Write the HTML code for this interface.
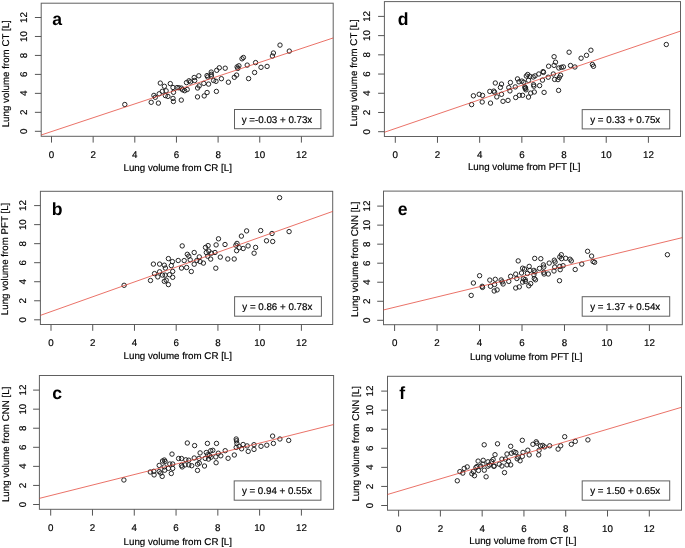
<!DOCTYPE html>
<html><head><meta charset="utf-8"><style>
html,body{margin:0;padding:0;background:#fff;}
svg{display:block;will-change:transform;}
text{text-rendering:geometricPrecision;font-family:"Liberation Sans",sans-serif;font-size:9.75px;fill:#000;stroke:#000;stroke-width:0.18;}
.m{text-anchor:middle;}
.lt{font-weight:bold;font-size:17.6px;fill:#000;stroke:none;}
.fr{fill:none;stroke:#606060;stroke-width:1;}
.tk{fill:none;stroke:#555;stroke-width:1;}
.lg{fill:#fff;stroke:#606060;stroke-width:1;}
.rl{stroke:#e23a2c;stroke-opacity:0.9;stroke-width:0.8;}
.pt circle{fill:none;stroke:#1a1a1a;stroke-width:0.95;}
</style></head><body>
<svg width="685" height="548" viewBox="0 0 685 548">
<g><rect x="41.20" y="3.20" width="292.00" height="133.10" class="fr"/><path d="M51.50 136.30V142.60M41.20 131.30H34.90M93.15 136.30V142.60M41.20 112.33H34.90M134.80 136.30V142.60M41.20 93.37H34.90M176.45 136.30V142.60M41.20 74.40H34.90M218.10 136.30V142.60M41.20 55.43H34.90M259.75 136.30V142.60M41.20 36.47H34.90M301.40 136.30V142.60M41.20 17.50H34.90" class="tk"/><text x="51.50" y="157.60" class="m">0</text><text transform="translate(27.00,131.30) rotate(-90)" class="m">0</text><text x="93.15" y="157.60" class="m">2</text><text transform="translate(27.00,112.33) rotate(-90)" class="m">2</text><text x="134.80" y="157.60" class="m">4</text><text transform="translate(27.00,93.37) rotate(-90)" class="m">4</text><text x="176.45" y="157.60" class="m">6</text><text transform="translate(27.00,74.40) rotate(-90)" class="m">6</text><text x="218.10" y="157.60" class="m">8</text><text transform="translate(27.00,55.43) rotate(-90)" class="m">8</text><text x="259.75" y="157.60" class="m">10</text><text transform="translate(27.00,36.47) rotate(-90)" class="m">10</text><text x="301.40" y="157.60" class="m">12</text><text transform="translate(27.00,17.50) rotate(-90)" class="m">12</text><text x="123.50" y="170.90">Lung volume from CR [L]</text><text transform="translate(9.40,73.75) rotate(-90)" class="m">Lung volume from CT [L]</text><text x="52.30" y="24.50" class="lt">a</text><g class="pt"><circle cx="124.8" cy="104.5" r="2.2"/><circle cx="151.2" cy="102.3" r="2.2"/><circle cx="153.9" cy="95.4" r="2.2"/><circle cx="155.3" cy="97.3" r="2.2"/><circle cx="158.4" cy="103.1" r="2.2"/><circle cx="160.3" cy="83.1" r="2.2"/><circle cx="164.4" cy="86.3" r="2.2"/><circle cx="170.3" cy="83.6" r="2.2"/><circle cx="173.0" cy="87.5" r="2.2"/><circle cx="177.0" cy="87.6" r="2.2"/><circle cx="162.3" cy="91.3" r="2.2"/><circle cx="166.1" cy="90.8" r="2.2"/><circle cx="165.4" cy="95.6" r="2.2"/><circle cx="167.9" cy="96.4" r="2.2"/><circle cx="173.0" cy="98.4" r="2.2"/><circle cx="173.4" cy="101.5" r="2.2"/><circle cx="159.2" cy="93.8" r="2.2"/><circle cx="173.5" cy="92.3" r="2.2"/><circle cx="179.0" cy="87.8" r="2.2"/><circle cx="181.4" cy="88.1" r="2.2"/><circle cx="182.5" cy="89.8" r="2.2"/><circle cx="184.7" cy="90.7" r="2.2"/><circle cx="187.2" cy="89.5" r="2.2"/><circle cx="186.5" cy="82.6" r="2.2"/><circle cx="189.0" cy="80.8" r="2.2"/><circle cx="190.5" cy="81.9" r="2.2"/><circle cx="194.2" cy="77.5" r="2.2"/><circle cx="194.7" cy="80.5" r="2.2"/><circle cx="198.8" cy="75.8" r="2.2"/><circle cx="197.6" cy="88.0" r="2.2"/><circle cx="199.2" cy="85.9" r="2.2"/><circle cx="203.8" cy="83.4" r="2.2"/><circle cx="208.6" cy="84.1" r="2.2"/><circle cx="207.0" cy="75.6" r="2.2"/><circle cx="207.7" cy="77.0" r="2.2"/><circle cx="211.2" cy="72.1" r="2.2"/><circle cx="211.3" cy="74.3" r="2.2"/><circle cx="211.4" cy="76.1" r="2.2"/><circle cx="213.6" cy="80.5" r="2.2"/><circle cx="197.5" cy="96.9" r="2.2"/><circle cx="204.2" cy="95.9" r="2.2"/><circle cx="207.1" cy="92.5" r="2.2"/><circle cx="181.3" cy="100.1" r="2.2"/><circle cx="216.4" cy="91.4" r="2.2"/><circle cx="216.7" cy="70.3" r="2.2"/><circle cx="219.3" cy="67.8" r="2.2"/><circle cx="225.2" cy="68.2" r="2.2"/><circle cx="216.0" cy="81.3" r="2.2"/><circle cx="221.4" cy="78.7" r="2.2"/><circle cx="228.4" cy="82.2" r="2.2"/><circle cx="234.3" cy="77.3" r="2.2"/><circle cx="236.6" cy="75.1" r="2.2"/><circle cx="237.1" cy="66.9" r="2.2"/><circle cx="238.9" cy="65.8" r="2.2"/><circle cx="237.8" cy="68.4" r="2.2"/><circle cx="242.0" cy="58.8" r="2.2"/><circle cx="243.4" cy="57.5" r="2.2"/><circle cx="247.2" cy="65.1" r="2.2"/><circle cx="255.6" cy="62.6" r="2.2"/><circle cx="261.0" cy="67.3" r="2.2"/><circle cx="267.1" cy="66.4" r="2.2"/><circle cx="272.4" cy="56.0" r="2.2"/><circle cx="273.4" cy="53.0" r="2.2"/><circle cx="280.0" cy="45.1" r="2.2"/><circle cx="289.3" cy="51.1" r="2.2"/><circle cx="254.6" cy="72.5" r="2.2"/><circle cx="248.6" cy="78.6" r="2.2"/></g><line x1="41.20" y1="135.01" x2="333.20" y2="37.94" class="rl"/><rect x="234.50" y="109.50" width="86.40" height="19.20" class="lg"/><text x="277.00" y="122.60" class="m">y =-0.03 + 0.73x</text></g><g><rect x="40.40" y="191.30" width="292.30" height="133.20" class="fr"/><path d="M51.00 324.50V330.80M40.40 319.80H34.10M92.73 324.50V330.80M40.40 300.77H34.10M134.47 324.50V330.80M40.40 281.73H34.10M176.20 324.50V330.80M40.40 262.70H34.10M217.93 324.50V330.80M40.40 243.67H34.10M259.67 324.50V330.80M40.40 224.63H34.10M301.40 324.50V330.80M40.40 205.60H34.10" class="tk"/><text x="51.00" y="345.80" class="m">0</text><text transform="translate(25.50,319.80) rotate(-90)" class="m">0</text><text x="92.73" y="345.80" class="m">2</text><text transform="translate(25.50,300.77) rotate(-90)" class="m">2</text><text x="134.47" y="345.80" class="m">4</text><text transform="translate(25.50,281.73) rotate(-90)" class="m">4</text><text x="176.20" y="345.80" class="m">6</text><text transform="translate(25.50,262.70) rotate(-90)" class="m">6</text><text x="217.93" y="345.80" class="m">8</text><text transform="translate(25.50,243.67) rotate(-90)" class="m">8</text><text x="259.67" y="345.80" class="m">10</text><text transform="translate(25.50,224.63) rotate(-90)" class="m">10</text><text x="301.40" y="345.80" class="m">12</text><text transform="translate(25.50,205.60) rotate(-90)" class="m">12</text><text x="123.60" y="358.60">Lung volume from CR [L]</text><text transform="translate(8.00,258.95) rotate(-90)" class="m">Lung volume from PFT [L]</text><text x="51.70" y="214.70" class="lt">b</text><g class="pt"><circle cx="124.1" cy="285.3" r="2.2"/><circle cx="150.5" cy="280.5" r="2.2"/><circle cx="153.4" cy="264.1" r="2.2"/><circle cx="154.5" cy="273.6" r="2.2"/><circle cx="157.8" cy="276.9" r="2.2"/><circle cx="159.6" cy="264.1" r="2.2"/><circle cx="159.6" cy="271.8" r="2.2"/><circle cx="162.5" cy="275.1" r="2.2"/><circle cx="164.3" cy="265.2" r="2.2"/><circle cx="165.4" cy="268.1" r="2.2"/><circle cx="165.1" cy="275.1" r="2.2"/><circle cx="164.3" cy="281.3" r="2.2"/><circle cx="166.2" cy="280.2" r="2.2"/><circle cx="168.4" cy="284.6" r="2.2"/><circle cx="168.4" cy="258.6" r="2.2"/><circle cx="169.5" cy="274.7" r="2.2"/><circle cx="171.3" cy="265.6" r="2.2"/><circle cx="172.4" cy="261.6" r="2.2"/><circle cx="172.7" cy="271.4" r="2.2"/><circle cx="172.7" cy="277.3" r="2.2"/><circle cx="178.2" cy="260.5" r="2.2"/><circle cx="181.5" cy="268.1" r="2.2"/><circle cx="184.2" cy="260.6" r="2.2"/><circle cx="182.2" cy="245.9" r="2.2"/><circle cx="186.6" cy="267.5" r="2.2"/><circle cx="187.3" cy="254.3" r="2.2"/><circle cx="188.8" cy="256.2" r="2.2"/><circle cx="190.2" cy="259.8" r="2.2"/><circle cx="191.3" cy="271.5" r="2.2"/><circle cx="194.2" cy="252.5" r="2.2"/><circle cx="194.2" cy="264.2" r="2.2"/><circle cx="196.8" cy="260.5" r="2.2"/><circle cx="199.3" cy="256.9" r="2.2"/><circle cx="200.1" cy="261.6" r="2.2"/><circle cx="203.4" cy="263.1" r="2.2"/><circle cx="205.5" cy="247.4" r="2.2"/><circle cx="206.3" cy="252.5" r="2.2"/><circle cx="207.7" cy="256.2" r="2.2"/><circle cx="208.1" cy="245.6" r="2.2"/><circle cx="208.8" cy="251.1" r="2.2"/><circle cx="210.7" cy="259.1" r="2.2"/><circle cx="211.4" cy="253.2" r="2.2"/><circle cx="215.0" cy="252.5" r="2.2"/><circle cx="215.8" cy="268.2" r="2.2"/><circle cx="216.1" cy="244.9" r="2.2"/><circle cx="218.5" cy="238.8" r="2.2"/><circle cx="220.3" cy="257.1" r="2.2"/><circle cx="225.0" cy="244.5" r="2.2"/><circle cx="227.8" cy="259.0" r="2.2"/><circle cx="234.2" cy="259.0" r="2.2"/><circle cx="235.9" cy="245.2" r="2.2"/><circle cx="236.6" cy="250.7" r="2.2"/><circle cx="237.0" cy="243.4" r="2.2"/><circle cx="239.2" cy="247.7" r="2.2"/><circle cx="241.4" cy="236.1" r="2.2"/><circle cx="243.2" cy="248.5" r="2.2"/><circle cx="246.6" cy="230.9" r="2.2"/><circle cx="248.1" cy="245.9" r="2.2"/><circle cx="254.1" cy="253.2" r="2.2"/><circle cx="255.6" cy="247.4" r="2.2"/><circle cx="260.7" cy="230.6" r="2.2"/><circle cx="266.5" cy="240.8" r="2.2"/><circle cx="272.0" cy="233.5" r="2.2"/><circle cx="272.7" cy="241.5" r="2.2"/><circle cx="279.6" cy="197.7" r="2.2"/><circle cx="289.1" cy="231.6" r="2.2"/></g><line x1="40.40" y1="315.39" x2="332.70" y2="211.41" class="rl"/><rect x="234.60" y="296.70" width="86.80" height="19.50" class="lg"/><text x="277.30" y="309.80" class="m">y = 0.86 + 0.78x</text></g><g><rect x="39.40" y="375.50" width="294.20" height="133.80" class="fr"/><path d="M50.70 509.30V515.60M39.40 504.50H33.10M92.48 509.30V515.60M39.40 485.43H33.10M134.27 509.30V515.60M39.40 466.37H33.10M176.05 509.30V515.60M39.40 447.30H33.10M217.83 509.30V515.60M39.40 428.23H33.10M259.62 509.30V515.60M39.40 409.17H33.10M301.40 509.30V515.60M39.40 390.10H33.10" class="tk"/><text x="50.70" y="530.60" class="m">0</text><text transform="translate(25.50,504.50) rotate(-90)" class="m">0</text><text x="92.48" y="530.60" class="m">2</text><text transform="translate(25.50,485.43) rotate(-90)" class="m">2</text><text x="134.27" y="530.60" class="m">4</text><text transform="translate(25.50,466.37) rotate(-90)" class="m">4</text><text x="176.05" y="530.60" class="m">6</text><text transform="translate(25.50,447.30) rotate(-90)" class="m">6</text><text x="217.83" y="530.60" class="m">8</text><text transform="translate(25.50,428.23) rotate(-90)" class="m">8</text><text x="259.62" y="530.60" class="m">10</text><text transform="translate(25.50,409.17) rotate(-90)" class="m">10</text><text x="301.40" y="530.60" class="m">12</text><text transform="translate(25.50,390.10) rotate(-90)" class="m">12</text><text x="123.60" y="544.90">Lung volume from CR [L]</text><text transform="translate(9.10,444.35) rotate(-90)" class="m">Lung volume from CNN [L]</text><text x="52.30" y="398.60" class="lt">c</text><g class="pt"><circle cx="123.9" cy="480.0" r="2.2"/><circle cx="150.3" cy="472.0" r="2.2"/><circle cx="153.8" cy="471.3" r="2.2"/><circle cx="154.1" cy="474.9" r="2.2"/><circle cx="159.2" cy="465.4" r="2.2"/><circle cx="159.2" cy="471.6" r="2.2"/><circle cx="160.7" cy="473.1" r="2.2"/><circle cx="162.2" cy="476.4" r="2.2"/><circle cx="164.3" cy="460.0" r="2.2"/><circle cx="165.1" cy="461.4" r="2.2"/><circle cx="162.5" cy="461.0" r="2.2"/><circle cx="164.3" cy="466.9" r="2.2"/><circle cx="164.7" cy="470.2" r="2.2"/><circle cx="168.4" cy="468.4" r="2.2"/><circle cx="169.8" cy="464.0" r="2.2"/><circle cx="171.3" cy="473.5" r="2.2"/><circle cx="172.0" cy="454.1" r="2.2"/><circle cx="172.7" cy="464.0" r="2.2"/><circle cx="172.7" cy="468.4" r="2.2"/><circle cx="178.6" cy="458.5" r="2.2"/><circle cx="181.5" cy="458.5" r="2.2"/><circle cx="181.5" cy="465.4" r="2.2"/><circle cx="182.2" cy="466.9" r="2.2"/><circle cx="185.1" cy="464.9" r="2.2"/><circle cx="185.8" cy="459.8" r="2.2"/><circle cx="187.3" cy="443.0" r="2.2"/><circle cx="188.8" cy="460.2" r="2.2"/><circle cx="188.8" cy="464.9" r="2.2"/><circle cx="191.7" cy="465.7" r="2.2"/><circle cx="194.2" cy="458.0" r="2.2"/><circle cx="194.6" cy="445.6" r="2.2"/><circle cx="197.5" cy="464.2" r="2.2"/><circle cx="197.5" cy="470.4" r="2.2"/><circle cx="199.0" cy="458.4" r="2.2"/><circle cx="199.3" cy="463.1" r="2.2"/><circle cx="200.1" cy="452.9" r="2.2"/><circle cx="204.5" cy="466.0" r="2.2"/><circle cx="205.2" cy="458.4" r="2.2"/><circle cx="206.3" cy="452.5" r="2.2"/><circle cx="207.4" cy="443.4" r="2.2"/><circle cx="207.7" cy="454.7" r="2.2"/><circle cx="208.5" cy="459.1" r="2.2"/><circle cx="210.7" cy="450.7" r="2.2"/><circle cx="212.8" cy="450.3" r="2.2"/><circle cx="215.8" cy="456.9" r="2.2"/><circle cx="216.1" cy="462.7" r="2.2"/><circle cx="216.5" cy="443.4" r="2.2"/><circle cx="218.3" cy="453.2" r="2.2"/><circle cx="220.8" cy="455.8" r="2.2"/><circle cx="225.2" cy="450.7" r="2.2"/><circle cx="228.1" cy="458.3" r="2.2"/><circle cx="234.3" cy="455.0" r="2.2"/><circle cx="236.2" cy="439.0" r="2.2"/><circle cx="236.5" cy="440.8" r="2.2"/><circle cx="236.9" cy="443.4" r="2.2"/><circle cx="236.2" cy="447.4" r="2.2"/><circle cx="239.1" cy="446.3" r="2.2"/><circle cx="241.6" cy="448.8" r="2.2"/><circle cx="243.1" cy="444.5" r="2.2"/><circle cx="247.1" cy="445.9" r="2.2"/><circle cx="248.2" cy="451.4" r="2.2"/><circle cx="254.0" cy="444.7" r="2.2"/><circle cx="254.0" cy="449.4" r="2.2"/><circle cx="261.0" cy="446.3" r="2.2"/><circle cx="266.8" cy="445.2" r="2.2"/><circle cx="272.6" cy="436.1" r="2.2"/><circle cx="273.4" cy="443.4" r="2.2"/><circle cx="279.9" cy="439.0" r="2.2"/><circle cx="288.7" cy="440.4" r="2.2"/><circle cx="209.5" cy="455.5" r="2.2"/><circle cx="211.0" cy="457.2" r="2.2"/></g><line x1="39.40" y1="498.37" x2="333.60" y2="424.54" class="rl"/><rect x="234.20" y="480.90" width="86.70" height="19.30" class="lg"/><text x="276.85" y="494.00" class="m">y = 0.94 + 0.55x</text></g><g><rect x="384.40" y="1.60" width="296.10" height="134.90" class="fr"/><path d="M395.30 136.50V142.80M384.40 131.70H378.10M437.48 136.50V142.80M384.40 112.48H378.10M479.67 136.50V142.80M384.40 93.27H378.10M521.85 136.50V142.80M384.40 74.05H378.10M564.03 136.50V142.80M384.40 54.83H378.10M606.22 136.50V142.80M384.40 35.62H378.10M648.40 136.50V142.80M384.40 16.40H378.10" class="tk"/><text x="395.30" y="158.10" class="m">0</text><text transform="translate(370.20,131.70) rotate(-90)" class="m">0</text><text x="437.48" y="158.10" class="m">2</text><text transform="translate(370.20,112.48) rotate(-90)" class="m">2</text><text x="479.67" y="158.10" class="m">4</text><text transform="translate(370.20,93.27) rotate(-90)" class="m">4</text><text x="521.85" y="158.10" class="m">6</text><text transform="translate(370.20,74.05) rotate(-90)" class="m">6</text><text x="564.03" y="158.10" class="m">8</text><text transform="translate(370.20,54.83) rotate(-90)" class="m">8</text><text x="606.22" y="158.10" class="m">10</text><text transform="translate(370.20,35.62) rotate(-90)" class="m">10</text><text x="648.40" y="158.10" class="m">12</text><text transform="translate(370.20,16.40) rotate(-90)" class="m">12</text><text x="467.90" y="169.80">Lung volume from PFT [L]</text><text transform="translate(356.70,72.85) rotate(-90)" class="m">Lung volume from CT [L]</text><text x="397.80" y="24.70" class="lt">d</text><g class="pt"><circle cx="471.6" cy="104.6" r="2.2"/><circle cx="473.4" cy="95.8" r="2.2"/><circle cx="479.2" cy="94.3" r="2.2"/><circle cx="482.5" cy="95.4" r="2.2"/><circle cx="482.2" cy="102.0" r="2.2"/><circle cx="489.8" cy="91.4" r="2.2"/><circle cx="493.8" cy="91.1" r="2.2"/><circle cx="494.6" cy="92.2" r="2.2"/><circle cx="490.5" cy="103.1" r="2.2"/><circle cx="495.3" cy="83.0" r="2.2"/><circle cx="501.5" cy="84.1" r="2.2"/><circle cx="500.4" cy="87.4" r="2.2"/><circle cx="496.8" cy="96.9" r="2.2"/><circle cx="501.5" cy="94.3" r="2.2"/><circle cx="503.0" cy="101.3" r="2.2"/><circle cx="508.0" cy="100.4" r="2.2"/><circle cx="510.4" cy="82.5" r="2.2"/><circle cx="508.8" cy="87.6" r="2.2"/><circle cx="509.9" cy="90.9" r="2.2"/><circle cx="515.7" cy="97.5" r="2.2"/><circle cx="519.3" cy="95.3" r="2.2"/><circle cx="522.6" cy="95.3" r="2.2"/><circle cx="528.5" cy="97.1" r="2.2"/><circle cx="530.7" cy="93.1" r="2.2"/><circle cx="534.3" cy="92.0" r="2.2"/><circle cx="515.3" cy="86.9" r="2.2"/><circle cx="517.5" cy="78.9" r="2.2"/><circle cx="519.0" cy="81.8" r="2.2"/><circle cx="521.9" cy="81.1" r="2.2"/><circle cx="523.7" cy="82.2" r="2.2"/><circle cx="524.8" cy="86.9" r="2.2"/><circle cx="525.2" cy="88.4" r="2.2"/><circle cx="525.9" cy="89.8" r="2.2"/><circle cx="527.7" cy="74.5" r="2.2"/><circle cx="526.3" cy="76.0" r="2.2"/><circle cx="529.9" cy="76.3" r="2.2"/><circle cx="528.5" cy="80.3" r="2.2"/><circle cx="533.2" cy="77.0" r="2.2"/><circle cx="535.0" cy="75.9" r="2.2"/><circle cx="533.6" cy="84.7" r="2.2"/><circle cx="533.9" cy="86.2" r="2.2"/><circle cx="538.8" cy="74.0" r="2.2"/><circle cx="539.6" cy="85.6" r="2.2"/><circle cx="554.1" cy="56.7" r="2.2"/><circle cx="555.5" cy="62.2" r="2.2"/><circle cx="554.1" cy="65.4" r="2.2"/><circle cx="548.6" cy="66.2" r="2.2"/><circle cx="558.8" cy="68.0" r="2.2"/><circle cx="561.4" cy="67.3" r="2.2"/><circle cx="563.4" cy="66.9" r="2.2"/><circle cx="569.1" cy="52.2" r="2.2"/><circle cx="543.1" cy="71.6" r="2.2"/><circle cx="543.5" cy="72.4" r="2.2"/><circle cx="542.5" cy="80.1" r="2.2"/><circle cx="548.2" cy="77.2" r="2.2"/><circle cx="553.3" cy="74.0" r="2.2"/><circle cx="554.6" cy="79.4" r="2.2"/><circle cx="559.3" cy="77.5" r="2.2"/><circle cx="560.6" cy="75.2" r="2.2"/><circle cx="558.0" cy="79.6" r="2.2"/><circle cx="570.5" cy="65.5" r="2.2"/><circle cx="574.9" cy="67.0" r="2.2"/><circle cx="581.1" cy="58.2" r="2.2"/><circle cx="586.5" cy="55.3" r="2.2"/><circle cx="590.9" cy="50.2" r="2.2"/><circle cx="592.4" cy="64.5" r="2.2"/><circle cx="593.5" cy="66.3" r="2.2"/><circle cx="544.1" cy="92.4" r="2.2"/><circle cx="558.6" cy="90.4" r="2.2"/><circle cx="666.3" cy="44.5" r="2.2"/><circle cx="525.5" cy="87.8" r="2.2"/></g><line x1="384.40" y1="132.25" x2="680.50" y2="31.09" class="rl"/><rect x="582.20" y="109.60" width="87.50" height="19.30" class="lg"/><text x="625.25" y="122.70" class="m">y = 0.33 + 0.75x</text></g><g><rect x="383.50" y="191.10" width="298.80" height="133.60" class="fr"/><path d="M394.60 324.70V331.00M383.50 320.30H377.20M437.07 324.70V331.00M383.50 301.27H377.20M479.53 324.70V331.00M383.50 282.23H377.20M522.00 324.70V331.00M383.50 263.20H377.20M564.47 324.70V331.00M383.50 244.17H377.20M606.93 324.70V331.00M383.50 225.13H377.20M649.40 324.70V331.00M383.50 206.10H377.20" class="tk"/><text x="394.60" y="346.10" class="m">0</text><text transform="translate(369.50,320.30) rotate(-90)" class="m">0</text><text x="437.07" y="346.10" class="m">2</text><text transform="translate(369.50,301.27) rotate(-90)" class="m">2</text><text x="479.53" y="346.10" class="m">4</text><text transform="translate(369.50,282.23) rotate(-90)" class="m">4</text><text x="522.00" y="346.10" class="m">6</text><text transform="translate(369.50,263.20) rotate(-90)" class="m">6</text><text x="564.47" y="346.10" class="m">8</text><text transform="translate(369.50,244.17) rotate(-90)" class="m">8</text><text x="606.93" y="346.10" class="m">10</text><text transform="translate(369.50,225.13) rotate(-90)" class="m">10</text><text x="649.40" y="346.10" class="m">12</text><text transform="translate(369.50,206.10) rotate(-90)" class="m">12</text><text x="469.90" y="359.80">Lung volume from PFT [L]</text><text transform="translate(358.00,259.25) rotate(-90)" class="m">Lung volume from CNN [L]</text><text x="397.70" y="214.60" class="lt">e</text><g class="pt"><circle cx="471.2" cy="295.4" r="2.2"/><circle cx="473.4" cy="283.0" r="2.2"/><circle cx="479.6" cy="275.7" r="2.2"/><circle cx="482.2" cy="286.3" r="2.2"/><circle cx="482.5" cy="287.4" r="2.2"/><circle cx="489.8" cy="280.1" r="2.2"/><circle cx="490.5" cy="286.3" r="2.2"/><circle cx="494.6" cy="284.5" r="2.2"/><circle cx="494.2" cy="291.0" r="2.2"/><circle cx="495.3" cy="279.3" r="2.2"/><circle cx="497.1" cy="289.9" r="2.2"/><circle cx="501.1" cy="280.0" r="2.2"/><circle cx="502.2" cy="281.9" r="2.2"/><circle cx="503.1" cy="284.0" r="2.2"/><circle cx="508.8" cy="281.4" r="2.2"/><circle cx="510.6" cy="276.3" r="2.2"/><circle cx="515.7" cy="274.1" r="2.2"/><circle cx="516.8" cy="278.5" r="2.2"/><circle cx="518.2" cy="260.9" r="2.2"/><circle cx="521.5" cy="273.0" r="2.2"/><circle cx="522.6" cy="268.2" r="2.2"/><circle cx="524.5" cy="269.0" r="2.2"/><circle cx="527.4" cy="273.4" r="2.2"/><circle cx="529.2" cy="266.4" r="2.2"/><circle cx="529.9" cy="270.4" r="2.2"/><circle cx="523.4" cy="278.8" r="2.2"/><circle cx="525.2" cy="279.6" r="2.2"/><circle cx="522.6" cy="282.1" r="2.2"/><circle cx="525.5" cy="281.4" r="2.2"/><circle cx="530.7" cy="283.6" r="2.2"/><circle cx="528.8" cy="285.8" r="2.2"/><circle cx="515.7" cy="288.0" r="2.2"/><circle cx="519.3" cy="286.9" r="2.2"/><circle cx="533.9" cy="270.4" r="2.2"/><circle cx="535.0" cy="271.9" r="2.2"/><circle cx="533.9" cy="274.8" r="2.2"/><circle cx="534.3" cy="278.5" r="2.2"/><circle cx="535.5" cy="279.8" r="2.2"/><circle cx="534.7" cy="258.4" r="2.2"/><circle cx="540.8" cy="258.7" r="2.2"/><circle cx="539.5" cy="268.4" r="2.2"/><circle cx="543.4" cy="264.9" r="2.2"/><circle cx="543.8" cy="267.1" r="2.2"/><circle cx="543.8" cy="272.3" r="2.2"/><circle cx="544.1" cy="274.0" r="2.2"/><circle cx="548.3" cy="274.0" r="2.2"/><circle cx="549.2" cy="263.1" r="2.2"/><circle cx="554.3" cy="260.2" r="2.2"/><circle cx="555.1" cy="262.0" r="2.2"/><circle cx="559.8" cy="256.9" r="2.2"/><circle cx="561.3" cy="254.7" r="2.2"/><circle cx="561.6" cy="258.7" r="2.2"/><circle cx="565.7" cy="258.3" r="2.2"/><circle cx="570.0" cy="259.2" r="2.2"/><circle cx="571.3" cy="260.9" r="2.2"/><circle cx="554.7" cy="267.1" r="2.2"/><circle cx="554.0" cy="271.0" r="2.2"/><circle cx="559.8" cy="266.4" r="2.2"/><circle cx="563.1" cy="265.7" r="2.2"/><circle cx="560.2" cy="269.7" r="2.2"/><circle cx="575.2" cy="269.5" r="2.2"/><circle cx="581.8" cy="264.1" r="2.2"/><circle cx="587.6" cy="251.3" r="2.2"/><circle cx="591.6" cy="256.1" r="2.2"/><circle cx="593.1" cy="261.5" r="2.2"/><circle cx="594.6" cy="262.3" r="2.2"/><circle cx="559.5" cy="280.7" r="2.2"/><circle cx="667.4" cy="254.7" r="2.2"/></g><line x1="383.50" y1="309.95" x2="682.30" y2="237.63" class="rl"/><rect x="582.20" y="296.70" width="87.50" height="19.50" class="lg"/><text x="625.25" y="309.80" class="m">y = 1.37 + 0.54x</text></g><g><rect x="387.50" y="376.30" width="294.00" height="133.90" class="fr"/><path d="M398.60 510.20V516.50M387.50 505.50H381.20M440.38 510.20V516.50M387.50 486.43H381.20M482.17 510.20V516.50M387.50 467.37H381.20M523.95 510.20V516.50M387.50 448.30H381.20M565.73 510.20V516.50M387.50 429.23H381.20M607.52 510.20V516.50M387.50 410.17H381.20M649.30 510.20V516.50M387.50 391.10H381.20" class="tk"/><text x="398.60" y="531.70" class="m">0</text><text transform="translate(373.10,505.50) rotate(-90)" class="m">0</text><text x="440.38" y="531.70" class="m">2</text><text transform="translate(373.10,486.43) rotate(-90)" class="m">2</text><text x="482.17" y="531.70" class="m">4</text><text transform="translate(373.10,467.37) rotate(-90)" class="m">4</text><text x="523.95" y="531.70" class="m">6</text><text transform="translate(373.10,448.30) rotate(-90)" class="m">6</text><text x="565.73" y="531.70" class="m">8</text><text transform="translate(373.10,429.23) rotate(-90)" class="m">8</text><text x="607.52" y="531.70" class="m">10</text><text transform="translate(373.10,410.17) rotate(-90)" class="m">10</text><text x="649.30" y="531.70" class="m">12</text><text transform="translate(373.10,391.10) rotate(-90)" class="m">12</text><text x="469.30" y="543.70">Lung volume from CT [L]</text><text transform="translate(358.90,443.85) rotate(-90)" class="m">Lung volume from CNN [L]</text><text x="399.30" y="398.60" class="lt">f</text><g class="pt"><circle cx="457.3" cy="480.8" r="2.2"/><circle cx="459.9" cy="471.6" r="2.2"/><circle cx="462.8" cy="473.1" r="2.2"/><circle cx="464.2" cy="468.4" r="2.2"/><circle cx="467.2" cy="466.9" r="2.2"/><circle cx="471.9" cy="473.8" r="2.2"/><circle cx="474.5" cy="475.7" r="2.2"/><circle cx="473.4" cy="471.6" r="2.2"/><circle cx="475.9" cy="467.6" r="2.2"/><circle cx="477.0" cy="466.5" r="2.2"/><circle cx="478.5" cy="470.5" r="2.2"/><circle cx="478.1" cy="461.1" r="2.2"/><circle cx="483.2" cy="460.3" r="2.2"/><circle cx="480.7" cy="466.2" r="2.2"/><circle cx="484.3" cy="470.2" r="2.2"/><circle cx="486.1" cy="476.8" r="2.2"/><circle cx="488.0" cy="461.8" r="2.2"/><circle cx="488.0" cy="466.2" r="2.2"/><circle cx="484.2" cy="444.8" r="2.2"/><circle cx="497.5" cy="443.8" r="2.2"/><circle cx="510.7" cy="446.3" r="2.2"/><circle cx="495.0" cy="454.7" r="2.2"/><circle cx="507.0" cy="454.0" r="2.2"/><circle cx="511.4" cy="453.2" r="2.2"/><circle cx="513.9" cy="451.8" r="2.2"/><circle cx="515.8" cy="452.5" r="2.2"/><circle cx="493.1" cy="459.5" r="2.2"/><circle cx="491.7" cy="461.3" r="2.2"/><circle cx="501.9" cy="459.1" r="2.2"/><circle cx="505.5" cy="459.1" r="2.2"/><circle cx="508.5" cy="461.3" r="2.2"/><circle cx="510.7" cy="464.9" r="2.2"/><circle cx="507.0" cy="464.9" r="2.2"/><circle cx="501.9" cy="466.0" r="2.2"/><circle cx="499.3" cy="464.2" r="2.2"/><circle cx="494.2" cy="466.0" r="2.2"/><circle cx="489.5" cy="464.9" r="2.2"/><circle cx="482.9" cy="464.2" r="2.2"/><circle cx="504.5" cy="472.6" r="2.2"/><circle cx="517.2" cy="458.8" r="2.2"/><circle cx="518.0" cy="456.9" r="2.2"/><circle cx="522.3" cy="440.3" r="2.2"/><circle cx="532.9" cy="444.3" r="2.2"/><circle cx="536.2" cy="441.8" r="2.2"/><circle cx="536.9" cy="443.2" r="2.2"/><circle cx="540.5" cy="445.8" r="2.2"/><circle cx="542.7" cy="445.4" r="2.2"/><circle cx="544.6" cy="446.9" r="2.2"/><circle cx="549.7" cy="445.8" r="2.2"/><circle cx="539.1" cy="450.2" r="2.2"/><circle cx="538.7" cy="454.9" r="2.2"/><circle cx="523.0" cy="452.4" r="2.2"/><circle cx="527.8" cy="450.2" r="2.2"/><circle cx="529.2" cy="454.9" r="2.2"/><circle cx="522.3" cy="456.4" r="2.2"/><circle cx="520.1" cy="460.8" r="2.2"/><circle cx="564.7" cy="436.7" r="2.2"/><circle cx="560.7" cy="445.8" r="2.2"/><circle cx="558.1" cy="449.1" r="2.2"/><circle cx="571.3" cy="444.3" r="2.2"/><circle cx="575.3" cy="441.4" r="2.2"/><circle cx="587.9" cy="439.9" r="2.2"/><circle cx="493.8" cy="466.3" r="2.2"/></g><line x1="387.50" y1="494.49" x2="681.50" y2="407.29" class="rl"/><rect x="582.20" y="480.90" width="87.50" height="19.30" class="lg"/><text x="625.25" y="494.00" class="m">y = 1.50 + 0.65x</text></g>
</svg>
</body></html>
